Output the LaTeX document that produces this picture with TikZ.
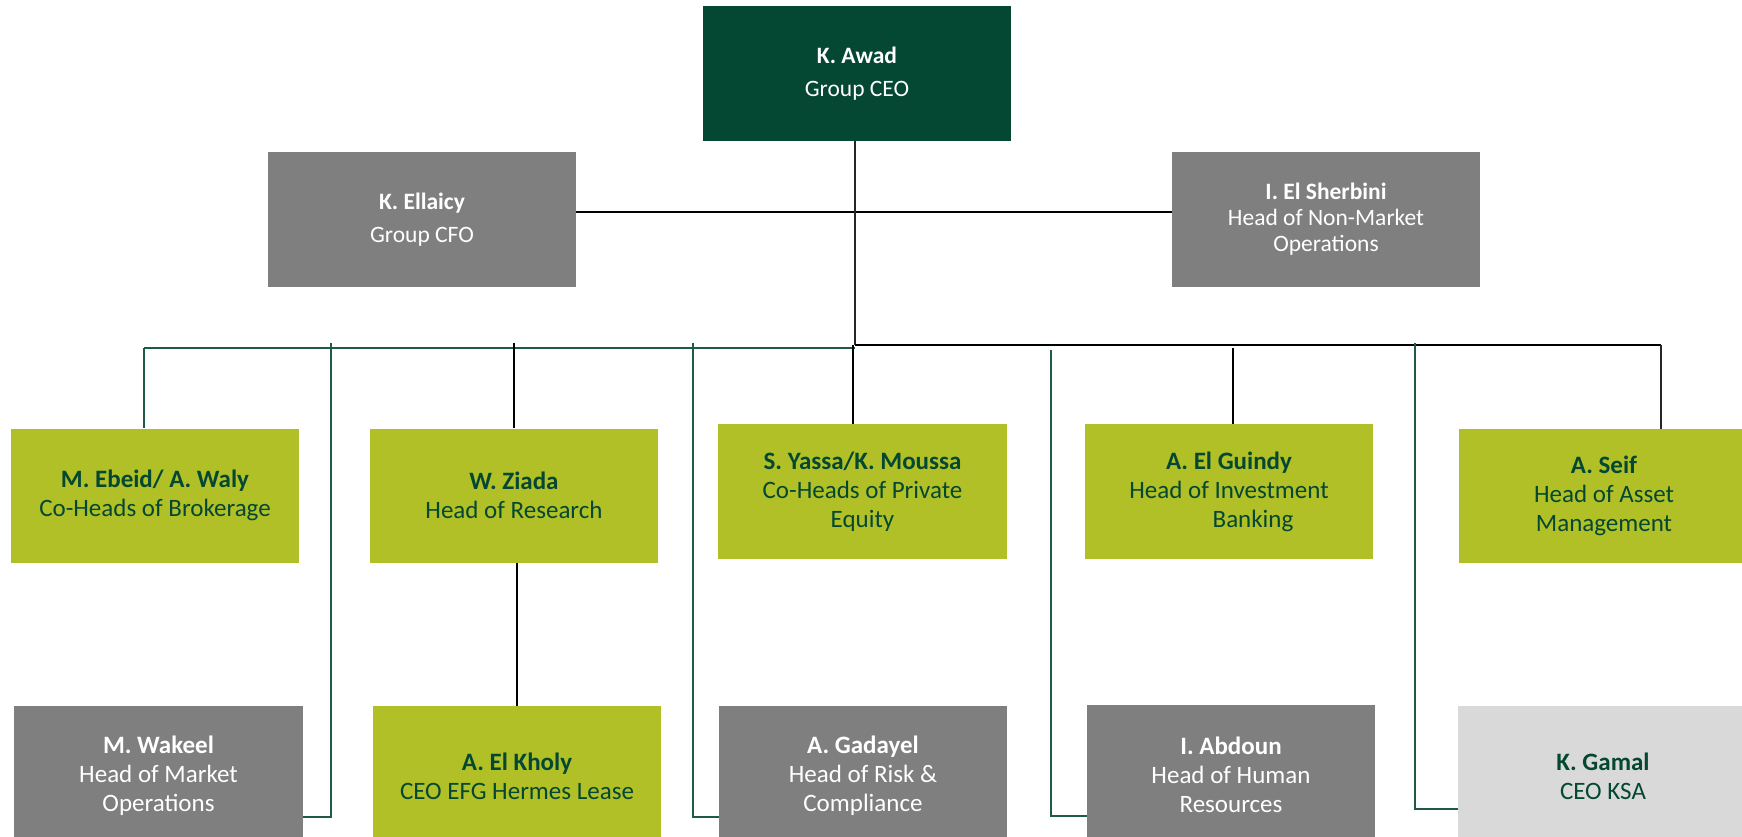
\documentclass[tikz,border=0pt]{standalone}
\usepackage{fontspec}
\setmainfont{Carlito}
\definecolor{dkgreen}{RGB}{4,71,50}
\definecolor{midgray}{RGB}{127,127,127}
\definecolor{limeg}{RGB}{176,192,38}
\definecolor{ltgray}{RGB}{217,217,217}
\definecolor{lgreen}{RGB}{30,90,68}
\begin{document}
\begin{tikzpicture}[x=1pt,y=-1pt,
 box/.style={inner sep=0pt, minimum width=288pt, minimum height=134pt, align=center, font=\fontsize{25}{29}\selectfont},
 topbox/.style={box, minimum width=308pt, minimum height=135pt, text=white, font=\fontsize{23.5}{33}\selectfont},
 ceobox/.style={topbox, fill=dkgreen},
 tgraybox/.style={topbox, fill=midgray},
 graybox/.style={box, fill=midgray, text=white},
 limebox/.style={box, fill=limeg, text=dkgreen},
 ltbox/.style={box, fill=ltgray, text=dkgreen},
 bline/.style={draw=black, line width=1.6pt},
 thinb/.style={draw=black!85, line width=1.2pt},
 gline/.style={draw=lgreen, line width=1.4pt},
]
\useasboundingbox (0,0) rectangle (1742,837);
\clip (0,0) rectangle (1742,837);
% top row
\node[ceobox] (ceo) at (857,73.5) {\textbf{K. Awad}\\Group CEO};
\node[tgraybox] (cfo) at (422,219.5) {\textbf{K. Ellaicy}\\Group CFO};
\node[tgraybox, font=\fontsize{23.5}{26}\selectfont] (sher) at (1326,219.5) {\textbf{I. El Sherbini}\\Head of Non-Market\\Operations};
% second row
\node[limebox] (ebeid) at (155,495.5) {\textbf{M. Ebeid/ A. Waly}\\Co-Heads of Brokerage};
\node[limebox] (ziada) at (514,495.5) {\textbf{W. Ziada}\\Head of Research};
\node[limebox, minimum width=289pt, minimum height=135pt] (yassa) at (862.5,491.5) {\textbf{S. Yassa/K. Moussa}\\Co-Heads of Private\\Equity};
\node[limebox, minimum height=135pt] (guindy) at (1229,491.5) {\textbf{A. El Guindy}\\Head of Investment\\\hspace*{48pt}Banking};
\node[limebox, minimum width=290pt] (seif) at (1604,496) {\textbf{A. Seif}\\Head of Asset\\Management};
% third row
\node[graybox, minimum width=289pt, minimum height=140pt] (wakeel) at (158.5,776) {\textbf{M. Wakeel}\\Head of Market\\Operations};
\node[limebox, minimum height=140pt] (kholy) at (517,776) {\textbf{A. El Kholy}\\CEO EFG Hermes Lease};
\node[graybox, minimum height=140pt] (gadayel) at (863,776) {\textbf{A. Gadayel}\\Head of Risk \&\\Compliance};
\node[graybox, minimum height=140pt] (abdoun) at (1231,775) {\textbf{I. Abdoun}\\Head of Human\\Resources};
\node[ltbox, minimum width=290pt, minimum height=140pt] (gamal) at (1603,776) {\textbf{K. Gamal}\\CEO KSA};
% coordinates
\coordinate (busM) at (855,345);
\coordinate (busL) at (144,348);
\coordinate (busR) at (1661,345);
\coordinate (vW) at (331,343);
\coordinate (vG) at (693,343);
\coordinate (vA) at (1051,350);
\coordinate (vK) at (1415,343);
\coordinate (jW) at (0,817);
\coordinate (jA) at (0,816);
\coordinate (jK) at (0,809);
\coordinate (tZ) at (514,343);
\coordinate (tY) at (853,345);
\coordinate (tE) at (1233,348);
% connectors
\draw[bline] (cfo.east |- 0,212) -- (sher.west |- 0,212);
\draw[thinb] (ceo.south -| busM) -- (busM);
\draw[bline] (busM) -- (busR);
\draw[gline] (busL) -- (busM |- busL);
\draw[gline] (busL) -- (ebeid.north -| busL);
\draw[bline] (tZ) -- (ziada.north);
\draw[bline] (tY) -- (yassa.north -| tY);
\draw[bline] (tE) -- (guindy.north -| tE);
\draw[thinb] (busR) -- (seif.north -| busR);
\draw[bline] (ziada.south -| kholy.north) -- (kholy.north);
\draw[gline] (vW) |- (wakeel.east |- jW);
\draw[gline] (vG) |- (gadayel.west |- jW);
\draw[gline] (vA) |- (abdoun.west |- jA);
\draw[gline] (vK) |- (gamal.west |- jK);
\end{tikzpicture}
\end{document}
